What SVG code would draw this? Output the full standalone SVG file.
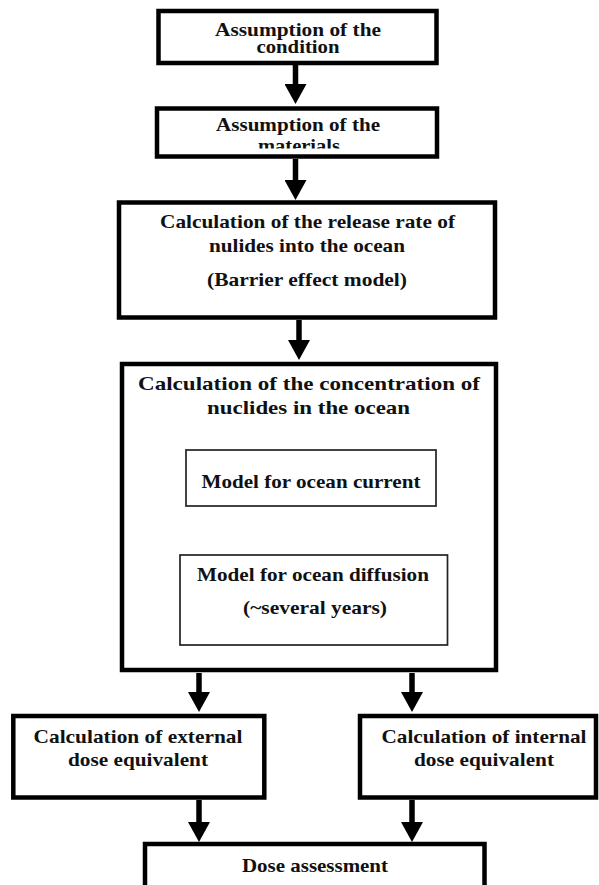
<svg xmlns="http://www.w3.org/2000/svg" width="599" height="885" viewBox="0 0 599 885">
<style>
.box{fill:#fff;stroke:#000;stroke-width:4.5}
.inner{fill:#fff;stroke:#222;stroke-width:1.7}
.t{font-family:"Liberation Serif","Times New Roman",serif;font-weight:bold;font-size:19px;fill:#111;text-anchor:middle}
.c{stroke:#000;stroke-width:5.5;fill:none}
</style>
<defs>
<marker id="ah" viewBox="0 0 20 22" refX="0" refY="11" markerWidth="20" markerHeight="22" markerUnits="userSpaceOnUse" orient="auto">
<path d="M0,0 L20,11 L0,22 z" fill="#000"/>
</marker>
<clipPath id="clip2"><rect x="150" y="100" width="300" height="48.5"/></clipPath>
</defs>
<rect width="599" height="885" fill="#fff"/>
<g id="connectors">
<line class="c" x1="295.5" y1="65" x2="295.5" y2="84" marker-end="url(#ah)"/>
<line class="c" x1="295.5" y1="159" x2="295.5" y2="180" marker-end="url(#ah)"/>
<line class="c" x1="299" y1="320" x2="299" y2="340" marker-end="url(#ah)"/>
<line class="c" x1="199" y1="673" x2="199" y2="692" marker-end="url(#ah)"/>
<line class="c" x1="412" y1="673" x2="412" y2="692" marker-end="url(#ah)"/>
<line class="c" x1="199" y1="800" x2="199" y2="822" marker-end="url(#ah)"/>
<line class="c" x1="412" y1="800" x2="412" y2="822" marker-end="url(#ah)"/>
</g>
<g id="n1">
<rect class="box" x="158.5" y="11" width="278" height="52"/>
<text class="t" x="298" y="36" textLength="166" lengthAdjust="spacingAndGlyphs">Assumption of the</text>
<text class="t" x="298" y="53" textLength="83" lengthAdjust="spacingAndGlyphs">condition</text>
</g>
<g id="n2">
<rect class="box" x="157" y="108.5" width="280" height="48"/>
<text class="t" x="298" y="131" textLength="164" lengthAdjust="spacingAndGlyphs">Assumption of the</text>
<text class="t" x="299" y="152" textLength="82" lengthAdjust="spacingAndGlyphs" clip-path="url(#clip2)">materials</text>
</g>
<g id="n3">
<rect class="box" x="119" y="202.5" width="376" height="115"/>
<text class="t" x="307.5" y="228" textLength="295" lengthAdjust="spacingAndGlyphs">Calculation of the release rate of</text>
<text class="t" x="307" y="252" textLength="196" lengthAdjust="spacingAndGlyphs">nulides into the ocean</text>
<text class="t" x="307" y="286" textLength="200" lengthAdjust="spacingAndGlyphs">(Barrier effect model)</text>
</g>
<g id="n4">
<rect class="box" x="122" y="364" width="374" height="306"/>
<text class="t" x="309" y="390" textLength="342" lengthAdjust="spacingAndGlyphs">Calculation of the concentration of</text>
<text class="t" x="308.5" y="414" textLength="203" lengthAdjust="spacingAndGlyphs">nuclides in the ocean</text>
</g>
<g id="n4a">
<rect class="inner" x="186" y="450" width="250" height="56"/>
<text class="t" x="311" y="488" textLength="219" lengthAdjust="spacingAndGlyphs">Model for ocean current</text>
</g>
<g id="n4b">
<rect class="inner" x="180" y="555" width="267.5" height="90"/>
<text class="t" x="313" y="581" textLength="232" lengthAdjust="spacingAndGlyphs">Model for ocean diffusion</text>
<text class="t" x="315" y="614" textLength="144" lengthAdjust="spacingAndGlyphs">(~several years)</text>
</g>
<g id="n5">
<rect class="box" x="13.3" y="716" width="251" height="81.5"/>
<text class="t" x="138" y="743" textLength="209" lengthAdjust="spacingAndGlyphs">Calculation of external</text>
<text class="t" x="138" y="766" textLength="140" lengthAdjust="spacingAndGlyphs">dose equivalent</text>
</g>
<g id="n6">
<rect class="box" x="360" y="716" width="236" height="81.5"/>
<text class="t" x="484" y="743" textLength="205" lengthAdjust="spacingAndGlyphs">Calculation of internal</text>
<text class="t" x="484" y="766" textLength="140" lengthAdjust="spacingAndGlyphs">dose equivalent</text>
</g>
<g id="n7">
<rect class="box" x="145" y="844" width="339.5" height="60"/>
<text class="t" x="315" y="872" textLength="146" lengthAdjust="spacingAndGlyphs">Dose assessment</text>
</g>
</svg>
